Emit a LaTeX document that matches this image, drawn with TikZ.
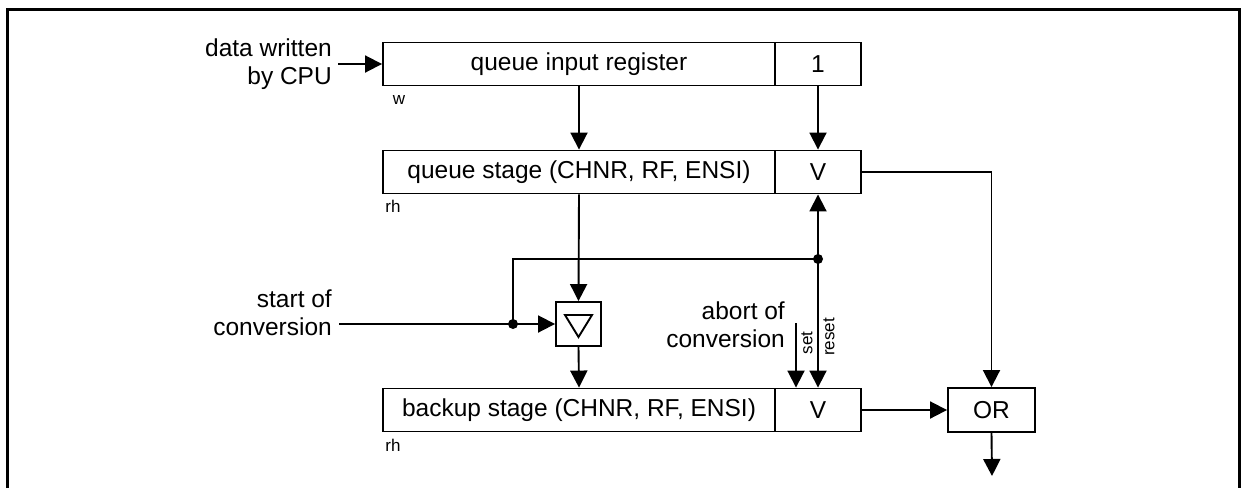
\documentclass[tikz,border=0pt]{standalone}
\usepackage{fontspec}
\setmainfont{Liberation Sans}
\usetikzlibrary{arrows.meta,calc}
\begin{document}
\begin{tikzpicture}[x=1pt,y=-1pt,
  box/.style={draw,line width=1.9pt,inner sep=0pt,minimum height=43pt,font=\fontsize{24.5}{26}\selectfont},
  lbl/.style={font=\fontsize{24.5}{28}\selectfont,align=right,inner sep=0pt},
  small/.style={font=\fontsize{17}{19}\selectfont,inner sep=0pt},
  conn/.style={line width=1.9pt,-{Triangle[length=17pt,width=17pt]}},
  wire/.style={line width=1.9pt},
  jdot/.style={circle,fill,inner sep=0pt,minimum size=10pt}]
\useasboundingbox (0,0) rectangle (1241,488);
\draw[line width=3pt] (7,488) -- (7,9) -- (1239,9) -- (1239,488);

% boxes
\node[box,minimum width=392pt] (qir) at (579,64) {queue input register};
\node[box,minimum width=86pt] (qir1) at (818,64) {1};
\node[box,minimum width=392pt] (qs) at (579,172) {queue stage (CHNR, RF, ENSI)};
\node[box,minimum width=86pt] (qsv) at (818,172) {V};
\node[box,minimum width=392pt] (bs) at (579,410) {backup stage (CHNR, RF, ENSI)};
\node[box,minimum width=86pt] (bsv) at (818,410) {V};
\node[box,minimum width=87pt,minimum height=44pt] (or) at (991.5,410) {OR};
\node[draw,line width=1.9pt,minimum width=45pt,minimum height=44pt,inner sep=0pt] (trig) at (578.5,324) {};
\draw[line width=1.9pt] (565,315) -- (592,315) -- (578.5,337) -- cycle;

% labels
\node[lbl,anchor=east] (ldata) at (332,64) {data written\\by CPU};
\node[lbl,anchor=east] (lstart) at (332,313) {start of\\conversion};
\node[lbl,anchor=east] (labort) at (785,325) {abort of\\conversion};
\node[small] (lw) at (399,100) {w};
\node[small] (lrh1) at (393,206) {rh};
\node[small] (lrh2) at (393,445) {rh};
\node[small,rotate=90] (lset) at (807,343) {set};
\node[small,rotate=90] (lreset) at (829,337) {reset};

% coordinates
\coordinate (in) at (338,64);
\coordinate (sc) at (339,324);
\coordinate (setc) at (796,323);
\coordinate (out) at (992,476);
\node[jdot] (d1) at (513,324) {};
\node[jdot] (d2) at (818,259) {};

% connectors
\draw[conn] (in) -- (qir.west);
\draw[conn] (qir.south) -- (qs.north);
\draw[conn] (qir1.south) -- (qsv.north);
\draw[conn] (qs.south) -- (trig.north);
\draw[conn] (trig.south) -- (bs.north);
\draw[conn] (sc) -- (trig.west);
\draw[wire] (d1.center) |- (d2.center);
\draw[conn] (d2.center) -- (qsv.south);
\draw[conn] (d2.center) -- (bsv.north);
\draw[conn] (setc) -- (setc |- bsv.north);
\draw[conn] (qsv.east) -| (or.north);
\draw[conn] (bsv.east) -- (or.west);
\draw[conn] (or.south) -- (out);
\end{tikzpicture}
\end{document}
